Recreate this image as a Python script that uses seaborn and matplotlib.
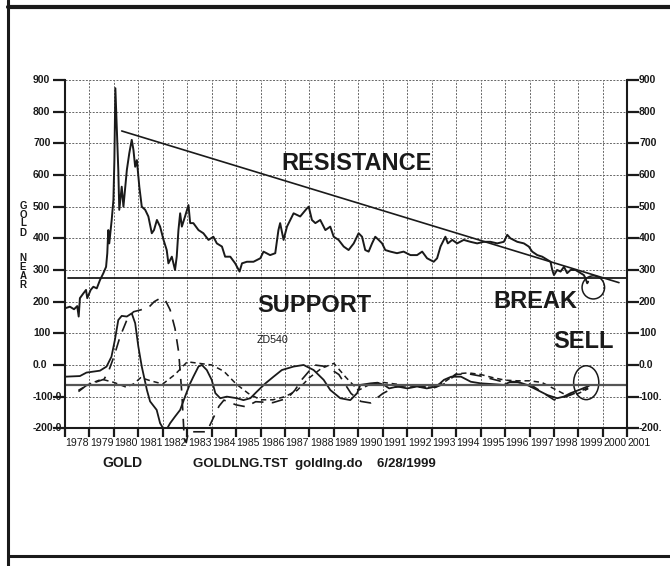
import numpy as np
import pandas as pd
import matplotlib
matplotlib.use("Agg")
import matplotlib.pyplot as plt
import seaborn as sns
from matplotlib.patches import Ellipse
from matplotlib.lines import Line2D
import matplotlib.transforms as mtransforms

# ---------------- data ----------------
gold_year = [1978.00, 1978.20, 1978.37, 1978.50, 1978.56, 1978.61, 1978.75, 1978.86, 1978.91,
             1979.05, 1979.16, 1979.30, 1979.43, 1979.50, 1979.57, 1979.68, 1979.73, 1979.77,
             1979.81, 1979.91, 1979.98, 1980.02, 1980.06, 1980.14, 1980.18, 1980.22, 1980.32,
             1980.39, 1980.53, 1980.63, 1980.73, 1980.80, 1980.87, 1980.94, 1981.04, 1981.14,
             1981.28, 1981.41, 1981.55, 1981.64, 1981.76, 1981.89, 1982.03, 1982.16, 1982.23,
             1982.37, 1982.50, 1982.57, 1982.64, 1982.71, 1982.78, 1982.91, 1983.05, 1983.12,
             1983.25, 1983.46, 1983.66, 1983.87, 1984.07, 1984.21, 1984.42, 1984.55, 1984.76,
             1984.96, 1985.14, 1985.24, 1985.44, 1985.71, 1985.99, 1986.12, 1986.39, 1986.60,
             1986.73, 1986.80, 1986.94, 1987.08, 1987.35, 1987.62, 1987.90, 1987.97, 1988.10,
             1988.24, 1988.44, 1988.65, 1988.85, 1988.99, 1989.19, 1989.40, 1989.60, 1989.81,
             1990.01, 1990.15, 1990.28, 1990.42, 1990.56, 1990.69, 1990.83, 1990.97, 1991.10,
             1991.31, 1991.58, 1991.85, 1992.13, 1992.40, 1992.61, 1992.81, 1993.08, 1993.22,
             1993.36, 1993.56, 1993.66, 1993.84, 1994.04, 1994.31, 1994.58, 1994.86, 1995.13,
             1995.40, 1995.68, 1995.95, 1996.09, 1996.22, 1996.50, 1996.77, 1996.97, 1997.11,
             1997.32, 1997.52, 1997.73, 1997.86, 1997.93, 1998.00, 1998.13, 1998.27, 1998.41,
             1998.54, 1998.68, 1998.88, 1999.09, 1999.22, 1999.29, 1999.36, 1999.40]
gold_price = [179, 184, 176, 186, 153, 211, 226, 237, 211,
              237, 247, 242, 268, 279, 290, 310, 353, 426,
              384, 458, 521, 647, 874, 705, 616, 490, 563,
              500, 616, 669, 711, 679, 626, 647, 563, 500,
              490, 469, 416, 426, 458, 437, 395, 363, 321,
              342, 300, 342, 426, 479, 437, 469, 505, 448,
              448, 426, 416, 395, 405, 384, 374, 342, 342,
              321, 295, 321, 326, 326, 337, 358, 347, 353,
              426, 448, 395, 437, 479, 469, 495, 500, 458,
              448, 458, 426, 437, 405, 395, 374, 363, 384,
              416, 405, 363, 358, 384, 405, 395, 384, 363,
              358, 353, 358, 347, 347, 358, 337, 326, 337,
              374, 405, 384, 395, 384, 395, 389, 384, 389,
              389, 384, 389, 411, 400, 389, 384, 374, 358,
              347, 342, 332, 326, 300, 284, 300, 295, 310,
              290, 300, 300, 290, 284, 274, 258, 263]

osc_solid_year = [1978.00, 1978.61, 1978.88, 1979.43, 1979.70, 1979.90, 1980.04, 1980.18, 1980.32,
                  1980.53, 1980.73, 1980.87, 1981.00, 1981.14, 1981.35, 1981.48, 1981.75, 1981.89,
                  1982.10, 1982.30, 1982.50, 1982.71, 1982.91, 1983.12, 1983.25, 1983.46, 1983.60,
                  1983.80, 1984.00, 1984.15, 1984.35, 1984.62, 1985.03, 1985.30, 1985.58, 1985.85,
                  1986.20, 1986.53, 1986.87, 1987.35, 1987.76, 1988.17, 1988.58, 1988.85, 1989.26,
                  1989.67, 1989.95, 1990.08, 1990.50, 1990.78, 1991.05, 1991.26, 1991.60, 1992.00,
                  1992.40, 1992.80, 1993.20, 1993.50, 1993.80, 1994.20, 1994.60, 1995.00, 1995.40,
                  1995.95, 1996.22, 1996.50, 1996.90, 1997.32, 1997.73, 1998.13, 1998.40, 1998.68,
                  1999.09, 1999.43]
osc_solid = [-37, -35, -24, -18, -5, 26, 79, 142, 155,
             153, 163, 132, 58, -5, -79, -115, -142, -184,
             -211, -184, -163, -142, -100, -58, -37, -5, 0,
             -16, -47, -89, -105, -100, -105, -111, -105, -84,
             -58, -37, -16, -5, 0, -16, -47, -79, -105,
             -111, -89, -63, -58, -56, -63, -74, -68, -74,
             -68, -74, -68, -47, -37, -37, -53, -58, -60,
             -63, -53, -53, -63, -79, -95, -105, -100, -89,
             -77, -66]

osc_long_year = [1978.55, 1978.90, 1979.30, 1979.60, 1979.80, 1980.00, 1980.25, 1980.53, 1980.80,
                 1981.10, 1981.45, 1981.65, 1981.90, 1982.10, 1982.30, 1982.50, 1982.65, 1982.78,
                 1982.88, 1982.96, 1983.05, 1983.40, 1983.80, 1984.05, 1984.30, 1984.50, 1985.00,
                 1985.40, 1985.80, 1986.50, 1987.10, 1987.40, 1987.70, 1988.20, 1988.70, 1989.20,
                 1989.70, 1990.10, 1990.50, 1991.00, 1991.50, 1992.00, 1992.50, 1993.00, 1993.50,
                 1994.00, 1994.50, 1995.00, 1995.50, 1996.00, 1996.50, 1997.00, 1997.50, 1998.00,
                 1998.50, 1999.00, 1999.40]
osc_long = [-84, -63, -53, -45, -16, 26, 89, 142, 168,
            174, 184, 200, 211, 205, 174, 115, 40, -90,
            -235, -245, -211, -211, -211, -170, -130, -111, -126,
            -132, -116, -119, -105, -80, -45, 0, -5, -30,
            -90, -115, -120, -90, -70, -65, -65, -75, -60,
            -30, -28, -35, -45, -55, -55, -60, -85, -110,
            -100, -85, -72]

osc_short_year = [1978.55, 1979.00, 1979.50, 1980.00, 1980.50, 1980.80, 1981.10, 1981.50, 1982.00,
                  1982.50, 1983.00, 1983.50, 1984.00, 1984.50, 1985.00, 1985.50, 1986.00, 1986.50,
                  1987.00, 1987.50, 1988.00, 1988.50, 1989.00, 1989.50, 1990.00, 1990.50, 1991.00,
                  1991.50, 1992.00, 1992.50, 1993.00, 1993.50, 1994.00, 1994.50, 1995.00, 1995.50,
                  1996.00, 1996.50, 1997.00, 1997.50, 1998.00, 1998.50, 1999.00, 1999.40]
osc_short = [-80, -60, -45, -55, -70, -60, -40, -50, -60,
             -30, 10, 5, 0, -20, -60, -90, -110, -110,
             -100, -80, -40, -10, 5, -40, -80, -60, -55,
             -60, -65, -70, -70, -55, -28, -25, -30, -40,
             -48, -50, -50, -55, -75, -95, -90, -75]

resist_year = [1980.32, 2000.66]
resist_value = [739, 260]
support_year = [1978.12, 2001.0]
support_value = [274, 274]
osc_base_year = [1978.0, 2001.0]
osc_base_value = [-63, -63]

year_labels = [str(y) for y in range(1978, 2002)]
left_ylabels = ["900", "800", "700", "600", "500", "400", "300", "200", "100", "0.0", "-100.0", "-200.0"]
right_ylabels = ["900", "800", "700", "600", "500", "400", "300", "200", "100", "0.0", "-100.", "-200."]
ytick_values = [900, 800, 700, 600, 500, 400, 300, 200, 100, 0, -100, -200]

# ---------------- figure ----------------
sns.set_theme(style="white")
plt.rcParams['font.family'] = ['Liberation Sans', 'DejaVu Sans']

W, H = 670, 566
fig = plt.figure(figsize=(W / 100, H / 100), dpi=100)
fig.patch.set_facecolor('white')
ax = fig.add_axes([65 / W, 1 - 428.3 / H, (627.3 - 65) / W, (428.3 - 80) / H])
ax.set_facecolor('white')

ink = '#1a1a1a'

sns.lineplot(x=gold_year, y=gold_price, ax=ax, color=ink, lw=1.4, sort=False, errorbar=None)
sns.lineplot(x=osc_solid_year, y=osc_solid, ax=ax, color=ink, lw=1.3, sort=False, errorbar=None)
sns.lineplot(x=osc_long_year, y=osc_long, ax=ax, color=ink, lw=1.2, sort=False, errorbar=None,
             linestyle=(0, (7, 5)), clip_on=False)
sns.lineplot(x=osc_short_year, y=osc_short, ax=ax, color=ink, lw=1.1, sort=False, errorbar=None,
             linestyle=(0, (3.5, 2.5)))
sns.lineplot(x=resist_year, y=resist_value, ax=ax, color=ink, lw=1.2, sort=False, errorbar=None)
sns.lineplot(x=support_year, y=support_value, ax=ax, color=ink, lw=1.3, sort=False, errorbar=None)
sns.lineplot(x=osc_base_year, y=osc_base_value, ax=ax, color='#555555', lw=1.6, sort=False, errorbar=None)

ax.add_patch(Ellipse((1999.61, 245), 0.92, 73, fill=False, ec=ink, lw=1.1, clip_on=False))
ax.add_patch(Ellipse((1999.32, -56), 1.03, 107, fill=False, ec=ink, lw=1.1, clip_on=False))

ax.set_xlim(1978, 2001)
ax.set_ylim(-200, 900)
ax.set_xticks(range(1978, 2002))
ax.set_xticklabels([])
ax.set_yticks(ytick_values)
ax.set_yticklabels([])
ax.set_xlabel('')
ax.set_ylabel('')
ax.grid(True, color='#666666', ls=(0, (2, 1.5)), lw=0.7)
ax.tick_params(axis='x', bottom=True, direction='out', length=6.5, width=1.6, color=ink)
ax.tick_params(axis='y', left=True, right=True, direction='out', length=8.6, width=1.6, color=ink)
for s in ['left', 'right', 'bottom']:
    ax.spines[s].set_color(ink)
    ax.spines[s].set_linewidth(1.5)
ax.spines['top'].set_visible(False)

# y labels (left aligned on both sides)
tf_left = mtransforms.blended_transform_factory(fig.transFigure, ax.transData)
for v, lab in zip(ytick_values, left_ylabels):
    fig.text(33 / W, v, lab, transform=tf_left, ha='left', va='center', fontsize=7.5,
             fontweight='bold', color=ink)
for v, lab in zip(ytick_values, right_ylabels):
    fig.text(639 / W, v, lab, transform=tf_left, ha='left', va='center', fontsize=7.5,
             fontweight='bold', color=ink)

# x labels centred in each year
tf_x = mtransforms.blended_transform_factory(ax.transData, ax.transAxes)
for i, lab in enumerate(year_labels):
    ax.text(1978.5 + i, -0.041, lab, transform=tf_x, ha='center', va='center', fontsize=7.6,
            color=ink, clip_on=False)

# annotations
big = dict(fontsize=17, fontweight='bold', color=ink, ha='center', va='baseline')
ax.text(1989.92, 616, 'RESISTANCE', **big)
ax.text(1988.18, 168, 'SUPPORT', **big)
ax.text(1997.25, 179, 'BREAK', **big)
ax.text(1999.21, 53, 'SELL', **big)
ax.text(1986.48, 68, 'ZD540', fontsize=7.7, color=ink, ha='center', va='baseline')

# vertical axis caption
for ch, yy in zip("GOLDNEAR", [206, 215, 223.5, 232.5, 258, 267, 276, 285]):
    fig.text(23 / W, 1 - yy / H, ch, ha='center', va='center', fontsize=7, fontweight='bold', color=ink)

# bottom caption
fig.text(122 / W, 1 - 467 / H, 'GOLD', ha='center', va='baseline', fontsize=10, fontweight='bold', color=ink)
fig.text(193 / W, 1 - 467 / H, 'GOLDLNG.TST  goldlng.do    6/28/1999', ha='left', va='baseline',
         fontsize=9.5, fontweight='bold', color=ink)

# frame
fig.add_artist(Line2D([7.5 / W, 7.5 / W], [0, 1], transform=fig.transFigure, color=ink, lw=2.2))
fig.add_artist(Line2D([7.5 / W, 1], [1 - 7 / H, 1 - 7 / H], transform=fig.transFigure, color=ink, lw=3))
fig.add_artist(Line2D([7.5 / W, 1], [1 - 556 / H, 1 - 556 / H], transform=fig.transFigure, color=ink, lw=2.2))

fig.savefig('out.png', dpi=100, facecolor='white')
